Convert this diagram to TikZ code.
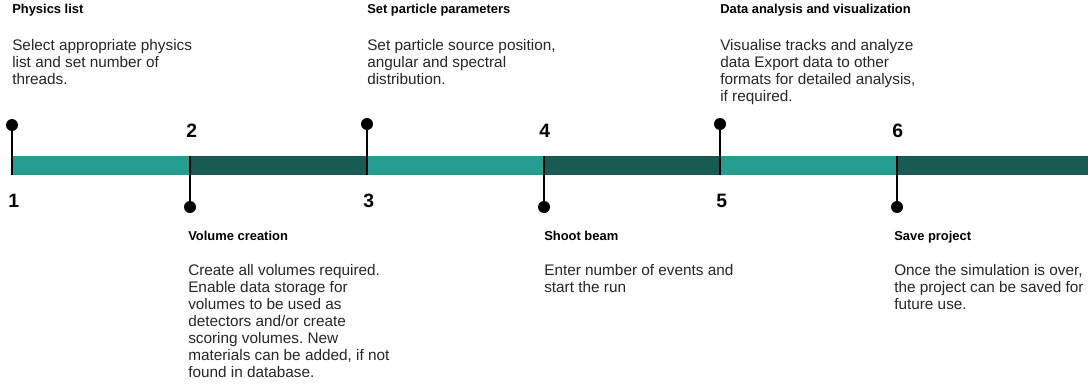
\documentclass[tikz,border=0pt]{standalone}
\usepackage{fontspec}
\setmainfont{Liberation Sans}
\frenchspacing
\definecolor{barlight}{HTML}{269E8F}
\definecolor{bardark}{HTML}{175B53}
\tikzset{
  dot/.style={circle,fill=black,inner sep=0pt,minimum size=9pt},
  stepnum/.style={anchor=base west,inner sep=0pt,font=\fontsize{14.5pt}{16pt}\selectfont\bfseries},
  title/.style={anchor=base west,inner sep=0pt,font=\fontsize{9.7pt}{11pt}\selectfont\bfseries},
  body/.style={anchor=base west,inner sep=0pt,align=left,font=\fontsize{11.5pt}{12.75pt}\selectfont,text=black!85}
}
\begin{document}
\begin{tikzpicture}[x=0.75pt,y=-0.75pt]
            \useasboundingbox (0,0) rectangle (1088,389);

            % the bar
            \fill[barlight] (12,156) rectangle (190,175);
            \fill[bardark] (190,156) rectangle (367,175);
            \fill[barlight] (367,156) rectangle (544,175);
            \fill[bardark] (544,156) rectangle (720,175);
            \fill[barlight] (720,156) rectangle (897,175);
            \fill[bardark] (897,156) rectangle (1088,175);

            % markers above
            \node[dot] (d1) at (12,125) {};
            \node[dot] (d3) at (367,124) {};
            \node[dot] (d5) at (720,124) {};
            \coordinate (b1) at (12,175);
            \coordinate (b3) at (367,175);
            \coordinate (b5) at (720,175);
            \draw[line width=1pt] (d1) -- (b1);
            \draw[line width=1pt] (d3) -- (b3);
            \draw[line width=1pt] (d5) -- (b5);

            % markers below
            \node[dot] (d2) at (190,207) {};
            \node[dot] (d4) at (544,207) {};
            \node[dot] (d6) at (897,207) {};
            \coordinate (b2) at (190,156);
            \coordinate (b4) at (544,156);
            \coordinate (b6) at (897,156);
            \draw[line width=1pt] (b2) -- (d2);
            \draw[line width=1pt] (b4) -- (d4);
            \draw[line width=1pt] (b6) -- (d6);

            % step numbers
            \node[stepnum] (n1) at (8,207) {1};
            \node[stepnum] (n2) at (186,137) {2};
            \node[stepnum] (n3) at (363,207) {3};
            \node[stepnum] (n4) at (539,137) {4};
            \node[stepnum] (n5) at (716,207) {5};
            \node[stepnum] (n6) at (892,137) {6};

            % texts above (body nodes sit on their last line)
            \node[title] (t1) at (12,13) {Physics list};
            \node[body] (x1) at (12,84) {Select appropriate physics\\list and set number of\\threads.};
            \node[title] (t3) at (367,13) {Set particle parameters};
            \node[body] (x3) at (367,84) {Set particle source position,\\angular and spectral\\distribution.};
            \node[title] (t5) at (720,13) {Data analysis and visualization};
            \node[body] (x5) at (720,101) {Visualise tracks and analyze\\data Export data to other\\formats for detailed analysis,\\if required.};

            % texts below
            \node[title] (t2) at (188,240) {Volume creation};
            \node[body] (x2) at (188,377) {Create all volumes required.\\Enable data storage for\\volumes to be used as\\detectors and/or create\\scoring volumes. New\\materials can be added, if not\\found in database.};
            \node[title] (t4) at (544,240) {Shoot beam};
            \node[body] (x4) at (544,292) {Enter number of events and\\start the run};
            \node[title] (t6) at (894,240) {Save project};
            \node[body] (x6) at (894,309) {Once the simulation is over,\\the project can be saved for\\future use.};

        \end{tikzpicture}
\end{document}
